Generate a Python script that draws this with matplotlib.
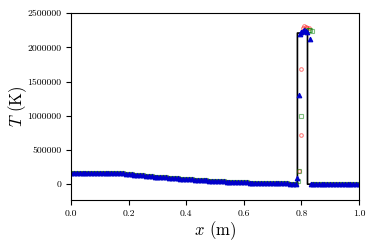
import matplotlib
matplotlib.use('Agg')
import matplotlib.pyplot as plt

plt.rcParams['font.family'] = 'serif'
plt.rcParams['font.serif'] = ['cmr10', 'DejaVu Serif']
plt.rcParams['mathtext.fontset'] = 'cm'
plt.rcParams['axes.formatter.use_mathtext'] = True

# smooth part left of the contact (shared by all three runs)
x_left = [0.00, 0.01, 0.02, 0.03, 0.04, 0.05, 0.06, 0.07, 0.08, 0.09,
          0.10, 0.11, 0.12, 0.13, 0.14, 0.15, 0.16, 0.17, 0.18, 0.19,
          0.20, 0.21, 0.22, 0.23, 0.24, 0.25, 0.26, 0.27, 0.28, 0.29,
          0.30, 0.31, 0.32, 0.33, 0.34, 0.35, 0.36, 0.37, 0.38, 0.39,
          0.40, 0.41, 0.42, 0.43, 0.44, 0.45, 0.46, 0.47, 0.48, 0.49,
          0.50, 0.51, 0.52, 0.53, 0.54, 0.55, 0.56, 0.57, 0.58, 0.59,
          0.60, 0.61, 0.62, 0.63, 0.64, 0.65, 0.66, 0.67, 0.68, 0.69,
          0.70, 0.71, 0.72, 0.73, 0.74, 0.75, 0.76, 0.77, 0.78]
T_left = [170000, 170000, 170000, 170000, 170000, 170000, 170000, 170000, 170000, 170000,
          170000, 170000, 170000, 169800, 169200, 168000, 165300, 161100, 156700, 152300,
          148100, 143900, 139700, 135700, 131600, 127700, 123800, 120000, 116200, 112500,
          108800, 105200, 101700, 98200, 94800, 91400, 88100, 84900, 81700, 78600,
          75600, 72600, 69600, 66800, 64000, 61200, 58500, 55900, 53300, 50800,
          48400, 46000, 43600, 41400, 39200, 37000, 34900, 32900, 30900, 29000,
          27200, 25400, 23700, 22000, 20400, 18900, 17400, 16000, 14600, 13300,
          12300, 11600, 11100, 10800, 10600, 10500, 10400, 10400, 10400]

# smooth part right of the shock
x_right = [0.84, 0.85, 0.86, 0.87, 0.88, 0.89, 0.90, 0.91, 0.92,
           0.93, 0.94, 0.95, 0.96, 0.97, 0.98, 0.99, 1.00]
T_right = [800, 500, 500, 500, 500, 500, 500, 500, 500,
           500, 500, 500, 500, 500, 500, 500, 500]

# points across the hot shell, per run
x_red = [0.790, 0.797, 0.800, 0.805, 0.810, 0.815, 0.820, 0.825]
T_red = [195000, 720000, 1690000, 2280000, 2310000, 2300000, 2290000, 2280000]

x_green = [0.789, 0.791, 0.798, 0.805, 0.815, 0.825, 0.830, 0.835, 0.840]
T_green = [50000, 200000, 990000, 2230000, 2260000, 2260000, 2250000, 2240000, 10000]

x_blue = [0.785, 0.791, 0.795, 0.800, 0.805, 0.810, 0.815, 0.820, 0.829, 0.833]
T_blue = [90000, 1310000, 2200000, 2230000, 2240000, 2250000, 2240000, 2230000, 2120000, 5000]

# exact solution
x_exact = [0.0, 0.15, 0.20, 0.30, 0.40, 0.50, 0.60, 0.70, 0.786, 0.786, 0.821, 0.821, 1.0]
T_exact = [170000, 170000, 148100, 108800, 75600, 48400, 27200, 12100, 10400,
           2210000, 2210000, 500, 500]

fig = plt.figure(figsize=(3.74, 2.49), dpi=100)
ax = fig.add_axes([0.19, 0.197, 0.77, 0.75])

ax.plot(x_exact, T_exact, color='black', lw=1.2, zorder=1)

runs = [(x_red, T_red, 'r', 'o', 'none', 2.6, 0.5),
        (x_green, T_green, 'g', 's', 'none', 2.6, 0.5),
        (x_blue, T_blue, '#0000cc', '^', '#0000cc', 3.3, 1.0)]
for xs, ts, c, m, fc, ms, a in runs:
    xx = x_left + xs + x_right
    tt = T_left + ts + T_right
    ax.plot(xx, tt, ls='none', marker=m, ms=ms, mfc=fc, mec=c,
            mew=0.8, alpha=a, zorder=2)

ax.set_xlim(0, 1)
ax.set_ylim(-230000, 2500000)
ax.set_xticks([0.0, 0.2, 0.4, 0.6, 0.8, 1.0])
ax.set_xticklabels(['0.0', '0.2', '0.4', '0.6', '0.8', '1.0'])
ax.set_yticks([0, 500000, 1000000, 1500000, 2000000, 2500000])
ax.set_yticklabels(['0', '500000', '1000000', '1500000', '2000000', '2500000'])
ax.tick_params(labelsize=7)
ax.set_xlabel(r'$x$ (m)', fontsize=12, labelpad=1)
ax.set_ylabel(r'$T$ (K)', fontsize=12, labelpad=-1)

fig.savefig('out.png', dpi=100)
